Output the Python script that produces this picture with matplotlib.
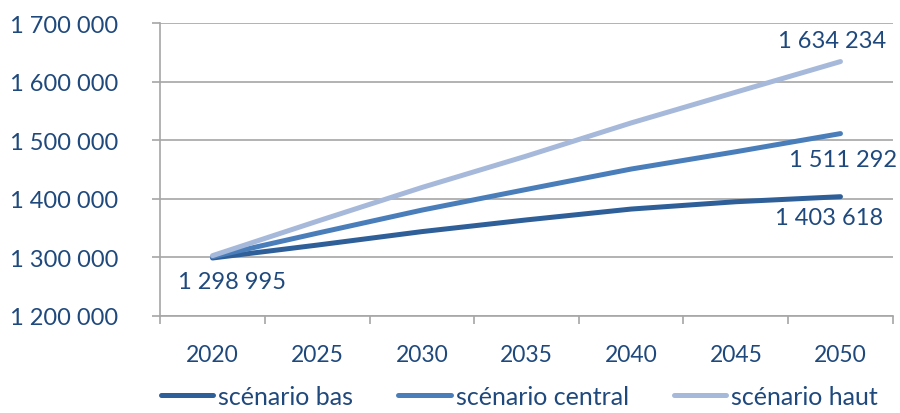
import matplotlib.pyplot as plt
from matplotlib.ticker import FuncFormatter, FixedLocator

years = ["2020", "2025", "2030", "2035", "2040", "2045", "2050"]
bas = [1298995, 1321000, 1344000, 1364000, 1382500, 1395000, 1403618]
central = [1301000, 1341300, 1380700, 1416000, 1450800, 1480300, 1511292]
haut = [1303000, 1361700, 1419300, 1473000, 1529500, 1582000, 1634234]
labels = ["scénario bas", "scénario central", "scénario haut"]

TEXT = "#1F497D"
GRID = "#A6A6A6"

plt.rcParams["font.family"] = ["Lato", "DejaVu Sans"]

fig = plt.figure(figsize=(9, 4.14), dpi=100)
ax = fig.add_axes([0.178, 0.2343, 0.814, 0.7077])

x = list(range(len(years)))
l1, = ax.plot(x, bas, color="#2F5F98", lw=3.6, solid_capstyle="round")
l2, = ax.plot(x, central, color="#4A7EBB", lw=3.6, solid_capstyle="round")
l3, = ax.plot(x, haut, color="#A6B9DA", lw=3.6, solid_capstyle="round")

ax.set_xlim(-0.5, len(years) - 0.5)
ax.set_ylim(1200000, 1700000)
ax.set_yticks(range(1200000, 1700001, 100000))
ax.yaxis.set_major_formatter(FuncFormatter(lambda v, p: f"{int(v):,}".replace(",", " ")))
ax.yaxis.grid(True, color=GRID, lw=1.2)
ax.set_axisbelow(True)

ax.set_xticks(x)
ax.set_xticklabels(years)
ax.xaxis.set_minor_locator(FixedLocator([i - 0.5 for i in range(len(years) + 1)]))
ax.tick_params(axis="x", which="major", length=0, pad=20, labelsize=16.5, labelcolor=TEXT)
ax.tick_params(axis="x", which="minor", length=6, width=1.2, color=GRID)
ax.tick_params(axis="y", length=6, width=1.2, color=GRID, pad=24, labelsize=17, labelcolor=TEXT)

for s in ["top", "right"]:
    ax.spines[s].set_visible(False)
for s in ["left", "bottom"]:
    ax.spines[s].set_color(GRID)
    ax.spines[s].set_linewidth(1.2)

def fmt(v):
    return f"{v:,}".replace(",", " ")

lab_kw = dict(textcoords="offset points", ha="center", va="center", fontsize=17, color=TEXT)
ax.annotate(fmt(bas[0]), (0, bas[0]), xytext=(14, -17), **lab_kw)
ax.annotate(fmt(bas[-1]), (6, bas[-1]), xytext=(-8, -15), **lab_kw)
ax.annotate(fmt(central[-1]), (6, central[-1]), xytext=(2, -19), **lab_kw)
ax.annotate(fmt(haut[-1]), (6, haut[-1]), xytext=(-6, 15), **lab_kw)

fig.legend([l1, l2, l3], labels, loc="center", bbox_to_anchor=(0.577, 0.04), ncol=3,
           frameon=False, fontsize=18, handlelength=2.1, handletextpad=0.2,
           columnspacing=1.8, labelcolor=TEXT)

fig.savefig("out.png", dpi=100)
